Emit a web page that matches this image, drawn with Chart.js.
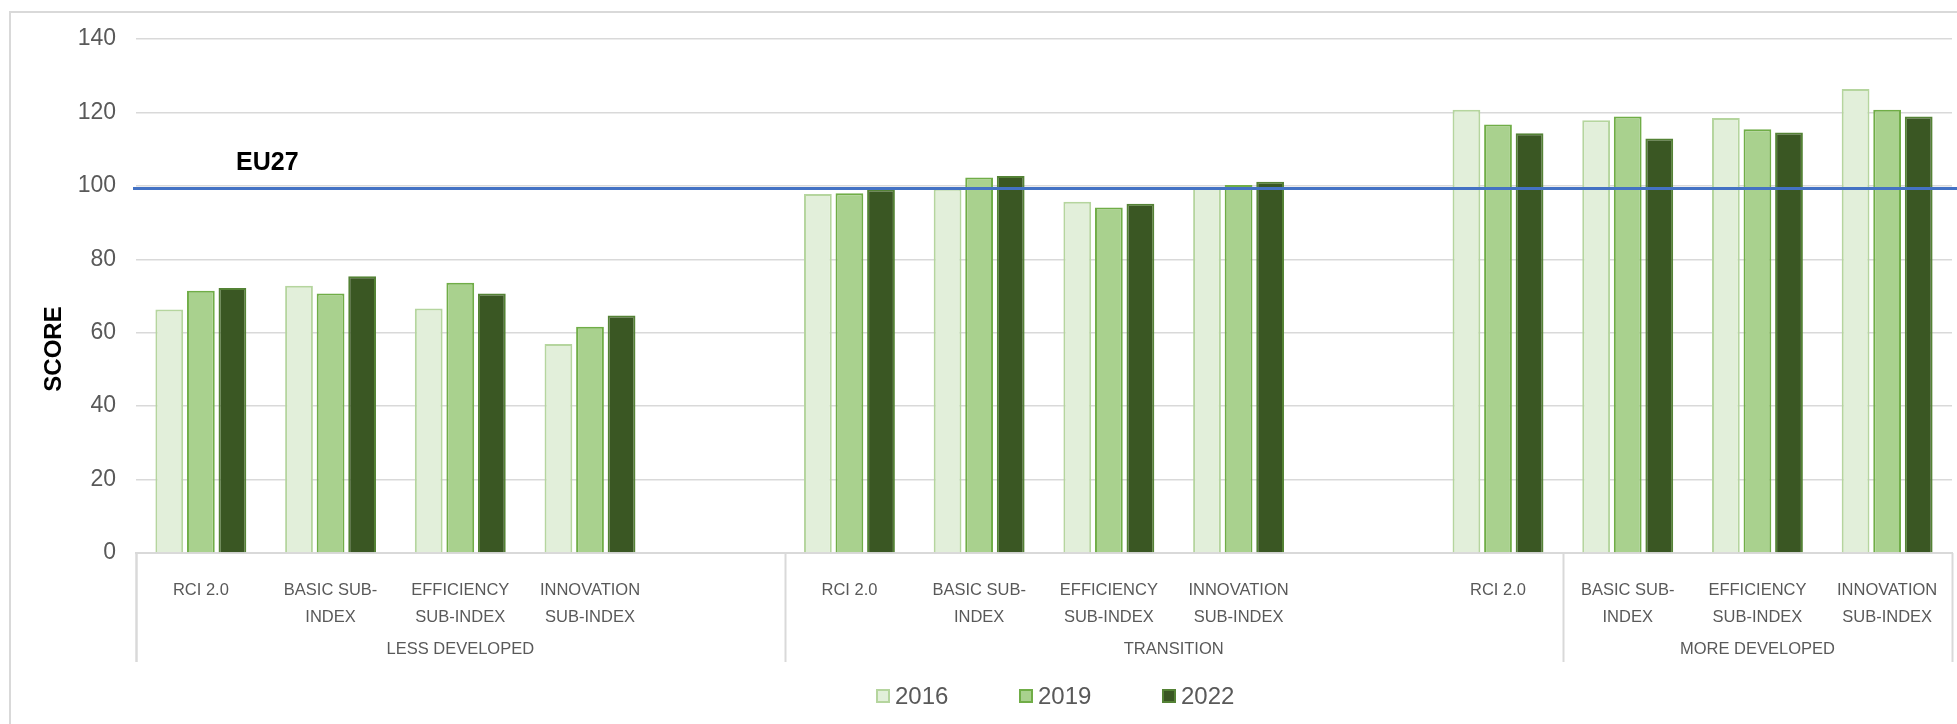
<!DOCTYPE html>
<html>
    <head>
        <title>RCI 2.0 by region category</title>
        <script src="https://cdn.jsdelivr.net/npm/chart.js"></script>
        <style>
            body { margin: 0; background: #fff; overflow: hidden; }
            #caja { position: relative; width: 1957px; height: 724px; }
        </style>
    </head>
    <body>
        <div id="caja">
            <canvas id="grafica"></canvas>
        </div>
    <script>
        // Datos (los huecos en blanco del original van como null)
        const categorias = [
            'RCI 2.0', ['BASIC SUB-', 'INDEX'], ['EFFICIENCY', 'SUB-INDEX'], ['INNOVATION', 'SUB-INDEX'], '',
            'RCI 2.0', ['BASIC SUB-', 'INDEX'], ['EFFICIENCY', 'SUB-INDEX'], ['INNOVATION', 'SUB-INDEX'], '',
            'RCI 2.0', ['BASIC SUB-', 'INDEX'], ['EFFICIENCY', 'SUB-INDEX'], ['INNOVATION', 'SUB-INDEX']
        ];
        const grupos = ['LESS DEVELOPED', 'TRANSITION', 'MORE DEVELOPED'];
        const grupoInicio = [0, 5, 11];
        const grupoFin = [4, 10, 13];

        const anios = ['2016', '2019', '2022'];
        const valores2016 = [66.3, 72.8, 66.6, 56.9, null, 97.8, 99.2, 95.7, 99.5, null, 120.7, 117.9, 118.5, 126.4];
        const valores2019 = [71.4, 70.7, 73.6, 61.6, null, 98.0, 102.3, 94.1, 100.2, null, 116.7, 118.9, 115.4, 120.7];
        const valores2022 = [72.2, 75.4, 70.7, 64.7, null, 99.0, 102.7, 95.1, 101.1, null, 114.3, 112.9, 114.5, 118.9];
        const eu27 = 99.3;
        const ticksY = [0, 20, 40, 60, 80, 100, 120, 140];

        const relleno = ['#E2EFDA', '#A9D18E', '#3A5723'];
        const borde = ['#B5D59E', '#70AD47', '#548235'];
        const gris = '#595959';
        const fuente = '"Liberation Sans", Arial, sans-serif';

        function serie(i, datos) {
            return {
                label: anios[i],
                data: datos,
                backgroundColor: relleno[i],
                borderColor: borde[i],
                borderWidth: 2,
                categoryPercentage: 0.73,
                barPercentage: 0.88
            };
        }

        // Dibuja linea EU27, etiquetas de grupo, separadores, titulo del eje y leyenda
        const extras = {
            id: 'extras',
            beforeDraw(chart) {
                const ctx = chart.ctx;
                ctx.save();
                ctx.strokeStyle = '#D9D9D9';
                ctx.lineWidth = 2;
                ctx.strokeRect(10, 12, chart.width + 10, chart.height + 10);
                ctx.restore();
            },
            afterDatasetsDraw(chart) {
                const ctx = chart.ctx;
                const x = chart.scales.x;
                const y = chart.scales.y;
                const area = chart.chartArea;
                const paso = (x.right - x.left) / categorias.length;

                // linea EU27
                const yEu = y.getPixelForValue(eu27);
                ctx.save();
                ctx.strokeStyle = '#4472C4';
                ctx.lineWidth = 3;
                ctx.beginPath();
                ctx.moveTo(area.left - 3, yEu);
                ctx.lineTo(chart.width, yEu);
                ctx.stroke();
                ctx.fillStyle = '#000';
                ctx.font = 'bold 25px ' + fuente;
                ctx.textBaseline = 'middle';
                ctx.textAlign = 'left';
                ctx.fillText('EU27', 236, y.getPixelForValue(eu27 + 7));

                // separadores y nombres de grupo
                ctx.strokeStyle = '#D9D9D9';
                ctx.lineWidth = 2;
                const abajo = area.bottom + 109;
                const bordes = [x.left, x.right];
                grupoInicio.forEach(function (ini) { bordes.push(x.getPixelForTick(ini) - paso / 2); });
                bordes.forEach(function (bx) {
                    ctx.beginPath();
                    ctx.moveTo(Math.round(bx) + 0.5, area.bottom);
                    ctx.lineTo(Math.round(bx) + 0.5, abajo);
                    ctx.stroke();
                });
                ctx.fillStyle = gris;
                ctx.font = '16.5px ' + fuente;
                ctx.textAlign = 'center';
                grupos.forEach(function (nombre, i) {
                    const a = x.getPixelForTick(grupoInicio[i]) - paso / 2;
                    const b = x.getPixelForTick(grupoFin[i]) + paso / 2;
                    ctx.fillText(nombre, (a + b) / 2, area.bottom + 96);
                });

                // titulo del eje Y
                ctx.fillStyle = '#000';
                ctx.font = 'bold 24px ' + fuente;
                ctx.textAlign = 'center';
                ctx.translate(54, 349);
                ctx.rotate(-Math.PI / 2);
                ctx.fillText('SCORE', 0, 0);
                ctx.restore();

                // leyenda
                ctx.save();
                ctx.font = '24px ' + fuente;
                ctx.textAlign = 'left';
                ctx.textBaseline = 'middle';
                const yLeyenda = 696;
                chart.data.datasets.forEach(function (ds, i) {
                    const lx = 876 + i * 143;
                    ctx.fillStyle = ds.backgroundColor;
                    ctx.fillRect(lx, yLeyenda - 7, 14, 14);
                    ctx.strokeStyle = ds.borderColor;
                    ctx.lineWidth = 2;
                    ctx.strokeRect(lx + 1, yLeyenda - 6, 12, 12);
                    ctx.fillStyle = gris;
                    ctx.fillText(ds.label, lx + 19, yLeyenda + 1);
                });
                ctx.restore();
            }
        };

        const config = {
            type: 'bar',
            data: {
                labels: categorias,
                datasets: [serie(0, valores2016), serie(1, valores2019), serie(2, valores2022)]
            },
            options: {
                responsive: true,
                maintainAspectRatio: false,
                animation: false,
                layout: { padding: { top: 39, right: 5, bottom: 56, left: 0 } },
                plugins: {
                    legend: { display: false },
                    tooltip: { enabled: false }
                },
                scales: {
                    x: {
                        grid: { display: false },
                        border: { display: true, color: '#D9D9D9', width: 2 },
                        ticks: {
                            color: gris,
                            padding: 16,
                            maxRotation: 0,
                            autoSkip: false,
                            font: { family: fuente, size: 16.5, lineHeight: 1.64 }
                        },
                        afterFit: function (scale) { scale.height = 115; }
                    },
                    y: {
                        min: 0,
                        max: 140,
                        afterBuildTicks: function (scale) {
                            scale.ticks = ticksY.map(function (v) { return { value: v }; });
                        },
                        grid: { color: '#D9D9D9', lineWidth: 1.5, drawTicks: false },
                        border: { display: false },
                        ticks: {
                            color: gris,
                            padding: 20,
                            font: { family: fuente, size: 23 }
                        },
                        afterFit: function (scale) { scale.width = 136; }
                    }
                }
            },
            plugins: [extras]
        };

        const grafica = new Chart(document.getElementById('grafica'), config);
    </script>
</body>
</html>
